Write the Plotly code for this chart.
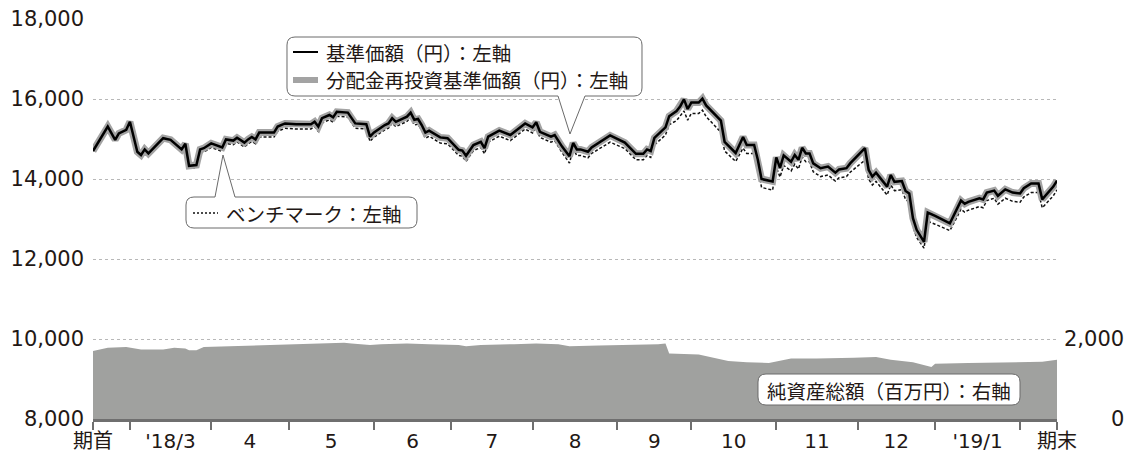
import numpy as np
import pandas as pd
import plotly.graph_objects as go

# ---------------- data ----------------
period_start = "2018-02-15"
period_end = "2019-02-15"

nav_dates = [
    "2018-02-15", "2018-02-21", "2018-02-23", "2018-02-26", "2018-02-28", "2018-03-01",
    "2018-03-05", "2018-03-06", "2018-03-07", "2018-03-08", "2018-03-14", "2018-03-16",
    "2018-03-21", "2018-03-22", "2018-03-23", "2018-03-27", "2018-03-28", "2018-03-29",
    "2018-04-02", "2018-04-05", "2018-04-06", "2018-04-10", "2018-04-11", "2018-04-13",
    "2018-04-16", "2018-04-17", "2018-04-18", "2018-04-19", "2018-04-25", "2018-04-26",
    "2018-04-30", "2018-05-03", "2018-05-09", "2018-05-10", "2018-05-11", "2018-05-14",
    "2018-05-16", "2018-05-17", "2018-05-18", "2018-05-23", "2018-05-25", "2018-05-30",
    "2018-05-31", "2018-06-01", "2018-06-06", "2018-06-07", "2018-06-08", "2018-06-11",
    "2018-06-14", "2018-06-15", "2018-06-18", "2018-06-19", "2018-06-20", "2018-06-21",
    "2018-06-22", "2018-06-27", "2018-06-29", "2018-07-04", "2018-07-05", "2018-07-06",
    "2018-07-10", "2018-07-12", "2018-07-13", "2018-07-16", "2018-07-19", "2018-07-24",
    "2018-07-30", "2018-08-01", "2018-08-02", "2018-08-03", "2018-08-08", "2018-08-09",
    "2018-08-13", "2018-08-15", "2018-08-16", "2018-08-17", "2018-08-20", "2018-08-22",
    "2018-08-23", "2018-08-30", "2018-09-05", "2018-09-10", "2018-09-12", "2018-09-13",
    "2018-09-14", "2018-09-17", "2018-09-20", "2018-09-21", "2018-09-25", "2018-09-26",
    "2018-09-27", "2018-09-28", "2018-10-01", "2018-10-03", "2018-10-04", "2018-10-05",
    "2018-10-11", "2018-10-12", "2018-10-17", "2018-10-19", "2018-10-22", "2018-10-24",
    "2018-10-25", "2018-10-26", "2018-10-31", "2018-11-01", "2018-11-02", "2018-11-05",
    "2018-11-07", "2018-11-08", "2018-11-09", "2018-11-12", "2018-11-13", "2018-11-14",
    "2018-11-15", "2018-11-19", "2018-11-21", "2018-11-23", "2018-11-26", "2018-11-28",
    "2018-11-29", "2018-12-05", "2018-12-06", "2018-12-07", "2018-12-10", "2018-12-13",
    "2018-12-14", "2018-12-17", "2018-12-19", "2018-12-20", "2018-12-21", "2018-12-24",
    "2018-12-25", "2018-12-27", "2018-12-28", "2019-01-01", "2019-01-07", "2019-01-09",
    "2019-01-10", "2019-01-11", "2019-01-14", "2019-01-17", "2019-01-18", "2019-01-21",
    "2019-01-23", "2019-01-24", "2019-01-28", "2019-01-30", "2019-02-01", "2019-02-04",
    "2019-02-06", "2019-02-08", "2019-02-11", "2019-02-14", "2019-02-15",
]

# 基準価額 (円)
nav_values = [
    14700, 15310, 14980, 15140, 15230, 15430,
    14680, 14600, 14740, 14640, 15020, 14980,
    14740, 14880, 14330, 14350, 14740, 14770,
    14890, 14790, 14990, 14960, 15030, 14910,
    14990, 15050, 14990, 15160, 15160, 15310,
    15390, 15370, 15370, 15430, 15310, 15520,
    15600, 15540, 15680, 15660, 15390, 15370,
    15060, 15160, 15350, 15390, 15520, 15430,
    15560, 15660, 15480, 15500, 15350, 15160,
    15210, 15040, 15020, 14730, 14710, 14580,
    14850, 14930, 14770, 15060, 15210, 15100,
    15390, 15290, 15420, 15180, 15060, 15100,
    14810, 14570, 14900, 14740, 14740, 14680,
    14790, 15090, 14910, 14630, 14630, 14740,
    14700, 15030, 15290, 15570, 15700, 15820,
    15990, 15750, 15910, 15910, 16010, 15840,
    15460, 14930, 14650, 15050, 14850, 14850,
    14480, 14000, 13940, 14540, 14280, 14590,
    14430, 14600, 14480, 14780, 14640, 14640,
    14390, 14270, 14310, 14160, 14240, 14270,
    14390, 14770, 14230, 14060, 14160, 13810,
    14100, 13930, 13950, 13700, 13640, 13020,
    12730, 12430, 13160, 13080, 12890, 13270,
    13460, 13380, 13430, 13520, 13490, 13660,
    13710, 13580, 13740, 13660, 13640, 13770,
    13890, 13890, 13490, 13810, 13960,
]

# 分配金再投資基準価額 (円): no distributions in the period, so it equals 基準価額
reinvest_values = list(nav_values)

# ベンチマーク
bench_values = [
    14700, 15300, 14970, 15130, 15210, 15410,
    14660, 14580, 14710, 14610, 14980, 14940,
    14690, 14820, 14270, 14280, 14650, 14670,
    14790, 14690, 14890, 14860, 14930, 14800,
    14880, 14940, 14880, 15050, 15050, 15190,
    15270, 15250, 15250, 15310, 15190, 15400,
    15480, 15420, 15570, 15550, 15270, 15250,
    14940, 15040, 15230, 15270, 15400, 15310,
    15440, 15540, 15350, 15370, 15220, 15020,
    15070, 14900, 14880, 14590, 14570, 14440,
    14710, 14790, 14630, 14920, 15070, 14960,
    15250, 15150, 15280, 15040, 14920, 14960,
    14660, 14400, 14750, 14590, 14590, 14530,
    14640, 14920, 14760, 14480, 14480, 14590,
    14540, 14850, 15100, 15360, 15460, 15580,
    15700, 15470, 15640, 15640, 15720, 15560,
    15170, 14700, 14440, 14770, 14640, 14640,
    14310, 13790, 13720, 14300, 14050, 14340,
    14200, 14370, 14250, 14550, 14430, 14430,
    14180, 14060, 14100, 13950, 14030, 14060,
    14170, 14470, 14000, 13850, 13940, 13600,
    13850, 13710, 13730, 13490, 13420, 12810,
    12540, 12270, 12940, 12870, 12710, 13060,
    13250, 13170, 13220, 13310, 13280, 13460,
    13520, 13370, 13520, 13440, 13420, 13550,
    13660, 13660, 13280, 13580, 13730,
]

# 純資産総額 (百万円)
asset_dates = [
    "2018-02-15", "2018-02-21", "2018-02-28", "2018-03-06", "2018-03-14", "2018-03-19",
    "2018-03-22", "2018-03-23", "2018-03-27", "2018-03-29", "2018-04-09", "2018-04-23",
    "2018-05-02", "2018-05-15", "2018-05-22", "2018-05-24", "2018-05-31", "2018-06-05",
    "2018-06-14", "2018-06-22", "2018-07-04", "2018-07-06", "2018-07-12", "2018-07-25",
    "2018-08-02", "2018-08-10", "2018-08-15", "2018-08-27", "2018-09-10", "2018-09-18",
    "2018-09-20", "2018-09-21", "2018-10-03", "2018-10-15", "2018-10-22", "2018-10-30",
    "2018-11-07", "2018-11-16", "2018-11-30", "2018-12-10", "2018-12-14", "2018-12-24",
    "2018-12-31", "2019-01-01", "2019-01-14", "2019-01-28", "2019-02-11", "2019-02-15",
]
asset_values = [
    1700, 1780, 1800, 1740, 1740, 1780,
    1760, 1720, 1720, 1800, 1820, 1850,
    1870, 1890, 1905, 1890, 1850, 1870,
    1890, 1870, 1850, 1820, 1850, 1870,
    1890, 1870, 1820, 1840, 1850, 1870,
    1890, 1635, 1610, 1450, 1420, 1400,
    1510, 1510, 1530, 1550, 1480, 1420,
    1300, 1380, 1400, 1420, 1430, 1480,
]

month_starts = [
    "2018-03-01", "2018-04-02", "2018-05-01", "2018-06-01", "2018-07-02", "2018-08-01",
    "2018-09-03", "2018-10-01", "2018-11-01", "2018-12-03", "2019-01-01", "2019-02-01",
]
tick_labels = ["期首", "'18/3", "4", "5", "6", "7", "8", "9", "10", "11", "12", "'19/1", "期末"]

left_ticks = [8000, 10000, 12000, 14000, 16000, 18000]
right_ticks = [0, 2000]

# ---------------- layout helpers ----------------
W, H = 1129, 455
L, R, T, B = 93, 1057, 19, 419          # plot area in window pixels
CJK = "Noto Sans CJK JP"
NUM = "DejaVu Sans, Noto Sans CJK JP"
TXT = "#231815"
GRAY_LINE = "#6f6f6f"


def px(x):
    return (x - L) / (R - L)


def py(y):
    return (B - y) / (B - T)


def P(x, y):
    return f"{px(x):.5f},{py(y):.5f}"


def month_center(a, b):
    days = pd.bdate_range(a, b)
    n = len(days) - 1
    mid = n / 2.0
    i = int(np.floor(mid))
    return days[i] + pd.Timedelta(days=mid - i)


centers = [month_center(month_starts[k], month_starts[k + 1]) for k in range(len(month_starts) - 1)]
major_vals = [pd.Timestamp(period_start)] + centers + [pd.Timestamp(period_end)]
minor_vals = [period_start] + month_starts + [period_end]

fig = go.Figure()

fig.add_trace(go.Scatter(
    x=asset_dates, y=asset_values, yaxis="y2", mode="lines",
    line=dict(width=0, color="#a0a19f"), fill="tozeroy", fillcolor="#a0a19f",
    hoverinfo="skip", name="純資産総額",
))
fig.add_trace(go.Scatter(
    x=nav_dates, y=bench_values, mode="lines",
    line=dict(color="#111111", width=1.5, dash="3px,2px"), name="ベンチマーク",
))
fig.add_trace(go.Scatter(
    x=nav_dates, y=reinvest_values, mode="lines",
    line=dict(color="#a3a3a3", width=7), name="分配金再投資基準価額",
))
fig.add_trace(go.Scatter(
    x=nav_dates, y=nav_values, mode="lines",
    line=dict(color="#000000", width=2.5), name="基準価額",
))

shapes = []
path1 = (f"M {P(558,96)} L {P(295,96)} Q {P(287,96)} {P(287,88)} L {P(287,45)} "
         f"Q {P(287,37)} {P(295,37)} L {P(634,37)} Q {P(642,37)} {P(642,45)} "
         f"L {P(642,88)} Q {P(642,96)} {P(634,96)} L {P(585,96)} L {P(570,134)} Z")
path2 = (f"M {P(215,197)} L {P(194,197)} Q {P(186,197)} {P(186,205)} L {P(186,220)} "
         f"Q {P(186,228)} {P(194,228)} L {P(409,228)} Q {P(417,228)} {P(417,220)} "
         f"L {P(417,205)} Q {P(417,197)} {P(409,197)} L {P(235,197)} L {P(223,155)} Z")
path3 = (f"M {P(766,374)} L {P(1012,374)} Q {P(1020,374)} {P(1020,382)} L {P(1020,397)} "
         f"Q {P(1020,405)} {P(1012,405)} L {P(766,405)} Q {P(758,405)} {P(758,397)} "
         f"L {P(758,382)} Q {P(758,374)} {P(766,374)} Z")
for pth in (path1, path2, path3):
    shapes.append(dict(type="path", path=pth, xref="paper", yref="paper",
                       line=dict(color="#6a6a6a", width=1), fillcolor="white", layer="above"))

shapes.append(dict(type="line", xref="paper", yref="paper", x0=px(293), x1=px(318), y0=py(52), y1=py(52),
                   line=dict(color="#000000", width=2)))
shapes.append(dict(type="line", xref="paper", yref="paper", x0=px(293), x1=px(318), y0=py(80), y1=py(80),
                   line=dict(color="#a3a3a3", width=6)))
shapes.append(dict(type="line", xref="paper", yref="paper", x0=px(193), x1=px(218), y0=py(213), y1=py(213),
                   line=dict(color="#111111", width=1.5, dash="2px,2px")))

ann_font = dict(family=CJK, size=19.5, color=TXT)
num_font = dict(family=NUM, size=21, color=TXT)
annotations = [
    dict(text="基準価額（円）：左軸", x=px(324), y=py(52), xref="paper", yref="paper",
         xanchor="left", yanchor="middle", showarrow=False, font=ann_font),
    dict(text="分配金再投資基準価額（円）：左軸", x=px(324), y=py(80), xref="paper", yref="paper",
         xanchor="left", yanchor="middle", showarrow=False, font=ann_font),
    dict(text="ベンチマーク：左軸", x=px(224), y=py(213), xref="paper", yref="paper",
         xanchor="left", yanchor="middle", showarrow=False, font=ann_font),
    dict(text="純資産総額（百万円）：右軸", x=px(889), y=py(390), xref="paper", yref="paper",
         xanchor="center", yanchor="middle", showarrow=False, font=ann_font),
]
for v in right_ticks:
    annotations.append(dict(text=f"{v:,}", x=px(1126), y=v, xref="paper", yref="y2",
                            xanchor="right", yanchor="middle", showarrow=False, font=num_font))

fig.update_layout(
    width=W, height=H,
    margin=dict(l=L, r=W - R, t=T, b=H - B, pad=0, autoexpand=False),
    paper_bgcolor="white", plot_bgcolor="white",
    showlegend=False,
    font=dict(family=CJK, size=19.5, color=TXT),
    shapes=shapes,
    annotations=annotations,
    xaxis=dict(
        type="date", range=[period_start, period_end],
        rangebreaks=[dict(bounds=["sat", "mon"])],
        tickmode="array", tickvals=major_vals, ticktext=tick_labels,
        ticks="", showgrid=False, zeroline=False, automargin=False,
        showline=True, linecolor=GRAY_LINE, linewidth=3,
        ticklabelstandoff=2, ticklabeloverflow="allow",
        tickfont=dict(family=NUM, size=20, color=TXT),
        minor=dict(tickmode="array", tickvals=minor_vals, ticks="outside",
                   ticklen=8, tickwidth=2, tickcolor=GRAY_LINE, showgrid=False),
    ),
    yaxis=dict(
        range=[8000, 18000], tickmode="array", tickvals=left_ticks,
        ticktext=[f"{v:,}" for v in left_ticks],
        showgrid=True, gridcolor="#b8b8b8", gridwidth=1, griddash="3px,3px",
        zeroline=False, showline=False, ticks="", ticklabelstandoff=8, automargin=False,
        ticklabeloverflow="allow",
        tickfont=num_font,
    ),
    yaxis2=dict(
        range=[0, 10000], overlaying="y", side="right", automargin=False,
        showgrid=False, zeroline=False, showticklabels=False, ticks="", showline=False,
    ),
)

# remove the default 8px page margin so the figure fills the window exactly
fig.write_html("out.html", config={"displayModeBar": False},
               post_script="document.body.style.margin='0px';")
